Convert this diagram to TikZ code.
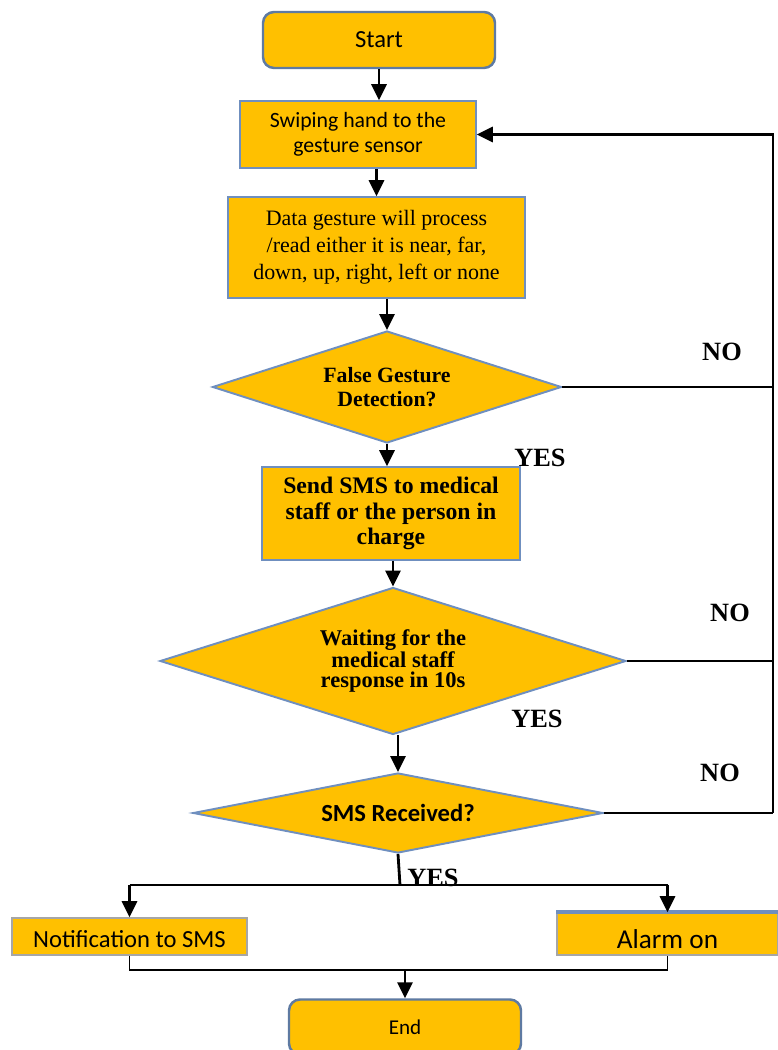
\documentclass[tikz,border=0pt]{standalone}
\usepackage{fontspec}
\setmainfont{Liberation Serif}
\newfontfamily\calibri{Carlito}
\usetikzlibrary{shapes.geometric,arrows.meta}
\definecolor{boxfill}{HTML}{FFC000}
\definecolor{boxline}{HTML}{6F8FBF}

\begin{document}
\begin{tikzpicture}[
  box/.style={draw=boxline, fill=boxfill, line width=0.9pt, align=center, inner sep=2pt},
  ends/.style={box, rounded corners=0.22cm, line width=1.4pt, draw=boxline!85!black},
  decide/.style={diamond, draw=boxline, fill=boxfill, line width=1.1pt, align=center, inner sep=0pt},
  flow/.style={line width=1.6pt, -{Triangle[length=0.32cm,width=0.3cm]}},
  link/.style={line width=1.6pt},
  answer/.style={font=\fontsize{15}{17}\selectfont\bfseries}
]
\useasboundingbox (0,0) rectangle (15.56,21);

% process steps
\node[ends, minimum width=4.64cm, minimum height=1.12cm, font=\calibri\fontsize{14}{16}\selectfont] (start) at (7.58,20.2) {Start};
\node[box, minimum width=4.72cm, minimum height=1.34cm, font=\calibri\fontsize{12.4}{14.5}\selectfont] (swipe) at (7.16,18.31) {Swiping hand to the\\gesture sensor};
\node[box, minimum width=5.94cm, minimum height=2.02cm, font=\fontsize{12.5}{15.5}\selectfont] (data) at (7.53,16.05) {Data gesture will process\\/read either it is near, far,\\down, up, right, left or none};
\node[decide, aspect=3.1, minimum width=6.98cm, minimum height=2.24cm, font=\fontsize{12.4}{13.2}\selectfont\bfseries] (false) at (7.74,13.26) {False Gesture\\Detection?};
\node[box, minimum width=5.16cm, minimum height=1.86cm, font=\fontsize{13.5}{14.4}\selectfont\bfseries] (send) at (7.82,10.73) {Send SMS to medical\\staff or the person in\\charge};
\node[decide, aspect=3.17, minimum width=9.32cm, minimum height=2.94cm, font=\fontsize{12.8}{11.2}\selectfont\bfseries] (wait) at (7.86,7.78) {Waiting for the\\medical staff\\response in 10s};
\node[decide, aspect=5.1, minimum width=8.2cm, minimum height=1.6cm, font=\calibri\fontsize{14}{16}\selectfont\bfseries] (received) at (7.96,4.74) {SMS Received?};
\node[box, draw=gray!70, minimum width=4.7cm, inner ysep=0.02cm, text height=0.58cm, text depth=0.12cm, font=\calibri\fontsize{14}{15}\selectfont] (notify) at (2.59,2.27) {Notification to SMS};
\node[box, draw=gray!70, minimum width=4.42cm, inner ysep=0.02cm, text height=0.7cm, text depth=0.1cm, font=\calibri\fontsize{15.5}{16}\selectfont] (alarm) at (13.35,2.32) {Alarm on};
\draw[boxline, line width=2pt] (alarm.north west) -- (alarm.north east);
\node[ends, minimum width=4.64cm, minimum height=1.1cm, font=\calibri\fontsize{12}{14}\selectfont] (end) at (8.1,0.46) {End};

% main flow
\draw[flow] (start.south) -- (start.south |- swipe.north);
\draw[flow] (data.north |- swipe.south) -- (data.north);
\draw[flow] (false.north |- data.south) -- (false.north);
\draw[flow] (false.south) -- (false.south |- send.north);
\draw[flow] (wait.north |- send.south) -- (wait.north);
\draw[flow] (received.north |- wait.south) -- (received.north);

% loop back
\coordinate (rail) at (15.46,4.7);
\draw[link] (false.east) -- (false.east -| rail);
\draw[link] (wait.east) -- (wait.east -| rail);
\draw[link] (received.east) -- (received.east -| rail);
\draw[flow] (received.east -| rail) -- (swipe.east -| rail) -- (swipe.east);

% split and join
\coordinate (split) at (8.0,3.3);
\coordinate (join) at (8.04,1.6);
\draw[link] (received.south) -- (split);
\draw[link] (notify.north |- split) -- (alarm.north |- split);
\draw[flow] (notify.north |- split) -- (notify.north);
\draw[flow] (alarm.north |- split) -- (alarm.north);
\draw[link, line width=1pt] (notify.south) |- (join) -| (alarm.south);
\draw[flow] (end.north |- join) -- (end.north);

% answers
\node[answer] (no1) at (14.44,13.96) {NO};
\node[answer] (yes1) at (10.8,11.84) {YES};
\node[answer] (no2) at (14.6,8.74) {NO};
\node[answer] (yes2) at (10.74,6.62) {YES};
\node[answer] (no3) at (14.4,5.54) {NO};
\node[answer] (yes3) at (8.66,3.44) {YES};
\end{tikzpicture}
\end{document}
